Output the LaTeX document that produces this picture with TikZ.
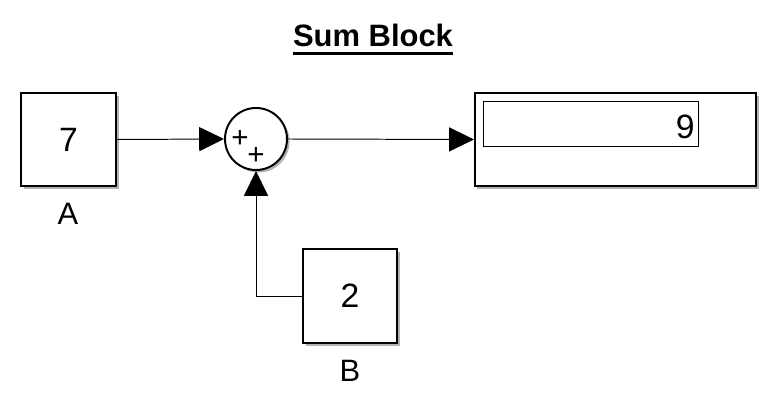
\documentclass[tikz,border=0pt]{standalone}
\usepackage{fontspec}
\setmainfont{Liberation Sans}
\usetikzlibrary{arrows.meta,shadows}

\tikzset{
    blk/.style={draw, line width=1.4pt, fill=white, inner sep=0pt,
        drop shadow={shadow xshift=1.8pt, shadow yshift=-1.8pt, opacity=0.5, fill=black!60},
        font=\fontsize{24}{28}\selectfont},
    sig/.style={line width=0.7pt, -{Triangle[length=0.62cm, width=0.6cm]}},
    lbl/.style={font=\fontsize{22}{26}\selectfont},
    sgn/.style={font=\fontsize{21}{24}\selectfont, inner sep=0pt},
}

\begin{document}
\begin{tikzpicture}[x=0.025cm, y=-0.025cm]
    \useasboundingbox (0, 0) rectangle (784, 418);
    % titre
    \node[font=\fontsize{22}{26}\selectfont\bfseries, inner sep=0pt, anchor=base] (title) at (373, 47) {Sum Block};
    \draw[line width=2pt] ([yshift=-4.5pt]title.base west) -- ([yshift=-4.5pt]title.base east);

    % constantes
    \node[blk, minimum width=2.375cm, minimum height=2.325cm] (cstA) at (68.5, 139.5) {7};
    \node[lbl] (labA) at (68, 214) {A};
    \node[blk, minimum width=2.35cm, minimum height=2.35cm] (cstB) at (350, 296) {2};
    \node[lbl] (labB) at (350, 371) {B};

    % sommateur
    \node[blk, circle, minimum size=1.55cm] (sum) at (256, 139) {};
    \node[sgn] (p1) at (240, 139) {+};
    \node[sgn] (p2) at (256, 156) {+};

    % afficheur
    \node[blk, minimum width=7.025cm, minimum height=2.325cm] (disp) at (615.5, 139.5) {};
    \node[draw, line width=0.7pt, inner sep=0pt, minimum width=5.35cm, minimum height=1.1cm] (val) at (591, 124) {};
    \node[font=\fontsize{24}{28}\selectfont, anchor=east, inner sep=0pt] (nine) at (695, 127) {9};

    % signaux
    \draw[sig] (cstA.east) -- (sum.west);
    \draw[sig] (cstB.west) -| (sum.south);
    \draw[sig] (sum.east) -- (disp.west);
\end{tikzpicture}
\end{document}
